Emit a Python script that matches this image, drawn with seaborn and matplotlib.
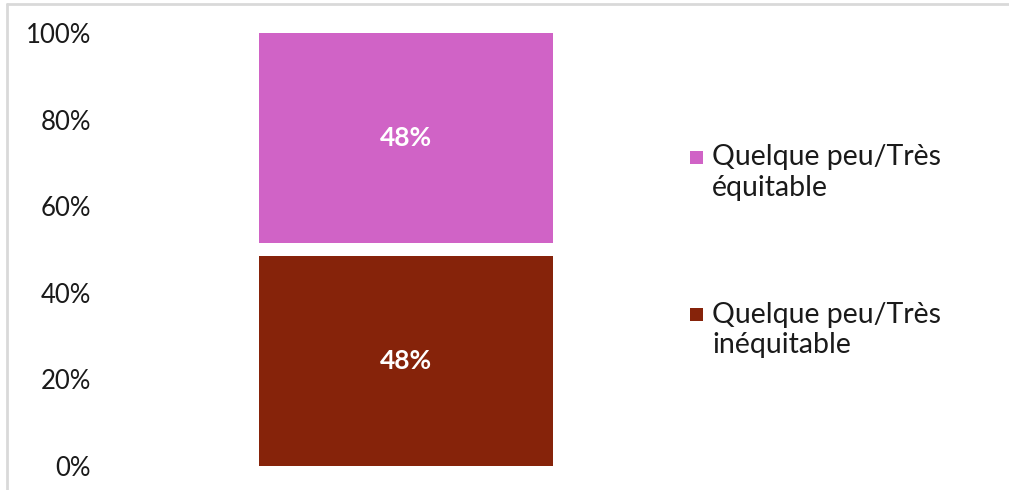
import matplotlib
matplotlib.use("Agg")
import matplotlib.pyplot as plt
from matplotlib.patches import Rectangle
import seaborn as sns
import pandas as pd

# Survey answers (raw shares, %), stacked bottom to top
groupe = ["Ensemble"]
inequitable = [48]
sans_reponse = [3]
equitable = [48]

series_labels = ["Quelque peu/Très\ninéquitable", "Quelque peu/Très\néquitable"]
tick_labels = ["0%", "20%", "40%", "60%", "80%", "100%"]

COL_INEQ = "#86230A"
COL_EQ = "#D063C6"

sns.set_theme(style="white")
plt.rcParams["font.family"] = ["Lato", "DejaVu Sans"]

# 100 % stacked: normalise each series to the bar total
total = [a + b + c for a, b, c in zip(inequitable, sans_reponse, equitable)]
df = pd.DataFrame({
    "groupe": groupe,
    "ineq": [a / t for a, t in zip(inequitable, total)],
    "gap": [(a + b) / t for a, b, t in zip(inequitable, sans_reponse, total)],
    "full": [1.0 for _ in total],
})

W, H = 1009, 490
fig = plt.figure(figsize=(W / 100, H / 100), dpi=100)
ax = fig.add_axes([100 / W, 24 / H, 612 / W, 433 / H])

# Overlapping cumulative bars give the stacked look
sns.barplot(data=df, x="groupe", y="full", color=COL_EQ, width=0.48,
            saturation=1, ax=ax, linewidth=0)
sns.barplot(data=df, x="groupe", y="gap", color="white", width=0.48,
            saturation=1, ax=ax, linewidth=0)
sns.barplot(data=df, x="groupe", y="ineq", color=COL_INEQ, width=0.48,
            saturation=1, ax=ax, linewidth=0)

ax.set_ylim(0, 1)
ax.set_xlim(-0.5, 0.5)
ax.set_yticks([i / 5 for i in range(6)])
ax.set_yticklabels(tick_labels, fontsize=18.5, color="#1a1a1a")
ax.tick_params(axis="y", length=0, pad=6.5)
ax.set_xticks([])
ax.set_xlabel("")
ax.set_ylabel("")
for s in ax.spines.values():
    s.set_visible(False)

# Value labels in the middle of each coloured segment
for i in range(len(groupe)):
    ax.text(i, df["ineq"][i] / 2, f"{inequitable[i]}%", ha="center", va="center",
            color="white", fontsize=19, fontweight="bold")
    ax.text(i, (df["gap"][i] + 1.0) / 2, f"{equitable[i]}%", ha="center", va="center",
            color="white", fontsize=19, fontweight="bold")

# Legend: square key aligned with the first line of each two-line label
legend_items = [(COL_EQ, series_labels[1], 157.5), (COL_INEQ, series_labels[0], 314.5)]
for col, lab, yc in legend_items:
    fig.add_artist(Rectangle((690 / W, 1 - (yc + 6.5) / H), 13 / W, 13 / H,
                             transform=fig.transFigure, facecolor=col,
                             edgecolor="none"))
    fig.text(712 / W, 1 - (yc - 13) / H, lab, ha="left", va="top",
             fontsize=20.5, linespacing=1.22, color="#1a1a1a")

# light frame around the chart area
fig.add_artist(plt.Line2D([7 / W, 7 / W], [0, 1 - 4 / H],
                          transform=fig.transFigure, color="#d9d9d9", lw=2))
fig.add_artist(plt.Line2D([7 / W, 1], [1 - 4 / H, 1 - 4 / H],
                          transform=fig.transFigure, color="#d9d9d9", lw=2))

fig.savefig("out.png", dpi=100)
